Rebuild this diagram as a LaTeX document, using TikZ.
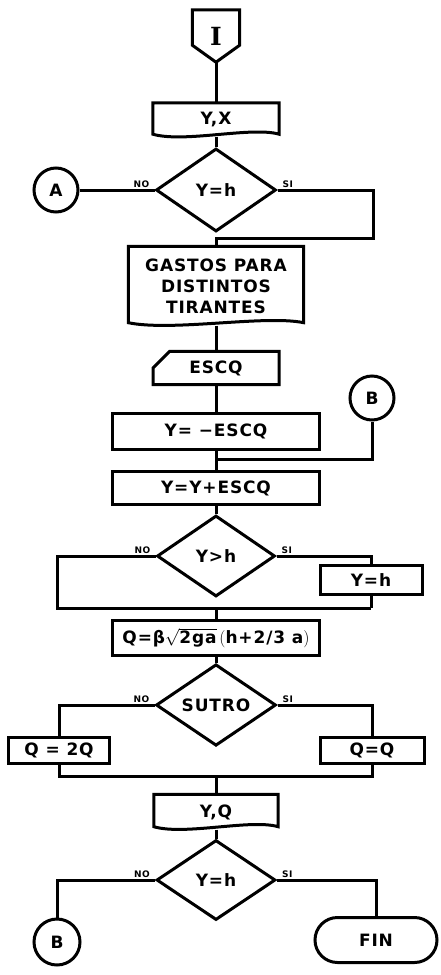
\documentclass[tikz,border=0pt]{standalone}
\usepackage{fontspec}
\setmainfont{DejaVu Sans}[LetterSpace=5]
\newfontfamily\capfont{DejaVu Serif}
\usetikzlibrary{shapes.geometric,shapes.misc,calc}

\tikzset{
  flow/.style={line width=3pt},
  txt/.style={font=\fontsize{17}{21}\selectfont\bfseries},
  box/.style={draw, rectangle, line width=3pt, inner sep=0pt, txt},
  docbox/.style={rectangle, inner sep=0pt, align=center, txt},
  decision/.style={draw, diamond, line width=3pt, inner sep=0pt, txt},
  conn/.style={draw, circle, line width=3pt, minimum size=44pt, inner sep=0pt, txt},
  lbl/.style={font=\fontsize{9}{10}\selectfont\bfseries, inner sep=1pt},
}

\begin{document}
\begin{tikzpicture}[x=1pt, y=-1pt]
\useasboundingbox (0,0) rectangle (440,975);

\def\cx{216}   % main column

% Start connector
\node (start) [rectangle, minimum width=47pt, minimum height=52pt, inner sep=0pt]
    at (\cx,36) {\capfont\fontsize{25}{25}\selectfont\bfseries I};
\draw[flow] (start.north west) -- (start.north east) -- ([yshift=17pt]start.south east)
    -- (start.south) -- ([yshift=17pt]start.south west) -- cycle;

% Input / output documents
\node (yx) [docbox, minimum width=126pt, minimum height=34pt] at (\cx,120) {Y,X};
\node (gastos) [docbox, minimum width=175pt, minimum height=79pt] at (\cx,286)
    {GASTOS PARA\\DISTINTOS\\TIRANTES};
\node (yq) [docbox, minimum width=124pt, minimum height=35pt] at (\cx,812) {Y,Q};
\foreach \n in {yx,gastos,yq}
  \draw[flow] (\n.north west) -- (\n.north east) -- ([yshift=3pt]\n.south east)
    .. controls ([yshift=11pt]$(\n.south west)!0.78!(\n.south east)$)
    and ([yshift=-6pt]$(\n.south west)!0.25!(\n.south east)$)
    .. ([yshift=3pt]\n.south west) -- cycle;

% Decisions
\node (d1) [decision, minimum width=120pt, minimum height=83pt] at (\cx,190) {Y=h};
\node (d2) [decision, minimum width=118pt, minimum height=81pt] at (\cx,556) {Y>h};
\node (d3) [decision, minimum width=120pt, minimum height=81pt] at (\cx,705) {SUTRO};
\node (d4) [decision, minimum width=119pt, minimum height=80pt] at (\cx,880) {Y=h};

% Connectors
\node (A) [conn] at (56,190) {A};
\node (B1) [conn] at (372,398) {B};
\node (B2) [conn, minimum size=46pt] at (57,942) {B};

% Process boxes
\node (escq) [draw, chamfered rectangle, chamfered rectangle corners=north west,
    chamfered rectangle xsep=9pt, chamfered rectangle ysep=9pt, line width=3pt,
    inner sep=0pt, minimum width=126pt, minimum height=31pt, txt] at (\cx,368) {ESCQ};
\node (yesc) [box, minimum width=207pt, minimum height=36pt] at (\cx,431) {Y= −ESCQ};
\node (yyesc) [box, minimum width=207pt, minimum height=33pt] at (\cx,488) {Y=Y+ESCQ};
\node (yh) [box, minimum width=102pt, minimum height=29pt] at (371,580) {Y=h};
\node (q) [box, minimum width=207pt, minimum height=35pt] at (\cx,638)
    {Q=β$\sqrt{\mbox{2ga}}$\,$\bigl($h+2/3 a$\bigr)$};
\node (q2) [box, minimum width=101pt, minimum height=26pt] at (59,750) {Q = 2Q};
\node (qq) [box, minimum width=104pt, minimum height=26pt] at (372,750) {Q=Q};
\node (fin) [draw, rounded rectangle, line width=3pt, inner sep=0pt,
    minimum width=122pt, minimum height=45pt, txt] at (376,940) {FIN};

% Junction points
\coordinate (r1) at (373,238);
\coordinate (j1) at (\cx,238);
\coordinate (j2) at (\cx,459);
\coordinate (l2) at (57,608);
\coordinate (r2) at (371,608);
\coordinate (j3) at (\cx,608);
\coordinate (j4) at (\cx,776);

% Flow lines
\draw[flow] (start.south) -- (yx.north);
\draw[flow] (yx.south) -- (d1.north);
\draw[flow] (A.east) -- (d1.west);
\draw[flow] (d1.east) -| (r1) -- (j1) -- (gastos.north);
\draw[flow] (gastos.south) -- (escq.north);
\draw[flow] (escq.south) -- (yesc.north);
\draw[flow] (B1.south) |- (j2);
\draw[flow] (yesc.south) -- (yyesc.north);
\draw[flow] (yyesc.south) -- (d2.north);
\draw[flow] (d2.west) -| (l2) -- (r2);
\draw[flow] (d2.east) -| (yh.north);
\draw[flow] (yh.south) -- (r2);
\draw[flow] (j3) -- (q.north);
\draw[flow] (q.south) -- (d3.north);
\draw[flow] (d3.west) -| (q2.north);
\draw[flow] (d3.east) -| (qq.north);
\draw[flow] (q2.south) |- (j4);
\draw[flow] (qq.south) |- (j4);
\draw[flow] (j4) -- (yq.north);
\draw[flow] (yq.south) -- (d4.north);
\draw[flow] (d4.west) -| (B2.north);
\draw[flow] (d4.east) -| (fin.north);

% Branch labels
\foreach \d in {d1,d2,d3,d4} {
  \node (\d-no) [lbl, anchor=south east] at ([xshift=-4pt,yshift=1pt]\d.west) {NO};
  \node (\d-si) [lbl, anchor=south west] at ([xshift=4pt,yshift=1pt]\d.east) {SI};
}

\end{tikzpicture}
\end{document}
